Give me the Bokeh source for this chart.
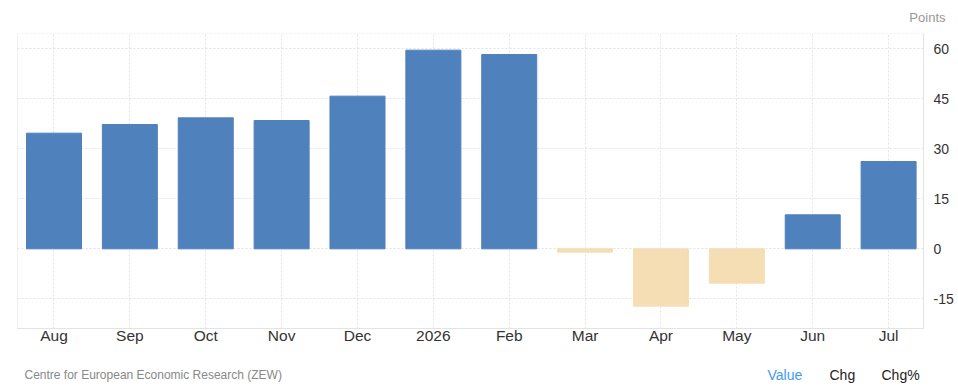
from bokeh.plotting import figure
from bokeh.models import ColumnDataSource, Range1d, FixedTicker, Span, Title
from bokeh.layouts import column
from bokeh.core.properties import value
from bokeh.embed import file_html
from bokeh.resources import INLINE

categories = ["Aug", "Sep", "Oct", "Nov", "Dec", "2026", "Feb", "Mar", "Apr", "May", "Jun", "Jul"]
values = [34.7, 37.3, 39.3, 38.5, 45.8, 59.6, 58.3, -1.0, -17.2, -10.3, 10.2, 26.2]
y_ticks = [-15, 0, 15, 30, 45, 60]
unit_label = "Points"
source_label = "Centre for European Economic Research (ZEW)"
tabs = ["Value", "Chg", "Chg%"]

POS = "#4F81BD"
NEG = "#F5DEB3"
GRID = "#e3e3e3"
FONT = "Liberation Sans"
W = 958
FRAME_L, FRAME_R = 17, 923
MAIN_H = 355

# main chart
xs = list(range(len(categories)))
colors = [POS if v >= 0 else NEG for v in values]
src = ColumnDataSource(dict(x=xs, top=values, bottom=[0] * len(values), color=colors))

p = figure(width=W, height=MAIN_H, output_backend="svg", toolbar_location=None,
           x_range=Range1d(-0.481, 11.46), y_range=Range1d(-23.9, 64.6),
           x_axis_location="below", y_axis_location="right",
           min_border_left=FRAME_L, min_border_right=W - FRAME_R, min_border_top=33, min_border_bottom=27)
p.outline_line_color = None
p.background_fill_color = "white"
p.border_fill_color = "white"

p.add_layout(Title(text=unit_label, align="right", offset=-22, standoff=14,
                   vertical_align="top",
                   text_font=FONT, text_font_size="13px", text_font_style="normal",
                   text_color="#999999"), "above")

p.vbar(x="x", top="top", bottom="bottom", width=0.725, color="color", source=src)

p.xaxis.ticker = FixedTicker(ticks=xs)
p.xaxis.major_label_overrides = {i: c for i, c in enumerate(categories)}
p.yaxis.ticker = FixedTicker(ticks=y_ticks)
p.yaxis.major_label_overrides = {t: str(t) for t in y_ticks}
for ax in (p.xaxis[0], p.yaxis[0]):
    ax.axis_line_color = GRID
    ax.axis_line_width = 1
    ax.major_tick_line_color = None
    ax.minor_tick_line_color = None
    ax.major_label_text_font = FONT
    ax.major_label_text_color = "#333333"
p.xaxis.major_label_text_font_size = "15.5px"
p.yaxis.major_label_text_font_size = "14px"
p.xaxis.major_label_standoff = -8
p.yaxis.major_label_standoff = 4

p.xgrid.ticker = FixedTicker(ticks=xs)
p.ygrid.ticker = FixedTicker(ticks=y_ticks)
for g in (p.xgrid[0], p.ygrid[0]):
    g.grid_line_color = GRID
    g.grid_line_dash = "2 2"
    g.grid_line_width = 1

p.add_layout(Span(location=-0.481, dimension="height", line_color=GRID, line_width=1))
p.add_layout(Span(location=64.6, dimension="width", line_color=GRID, line_width=1, line_dash="2 2"))

# footer (its frame is aligned with the main frame by the column layout)
FOOT_H = 389 - MAIN_H
foot = figure(width=W, height=FOOT_H, output_backend="svg", toolbar_location=None,
              x_range=Range1d(FRAME_L, FRAME_R), y_range=Range1d(FOOT_H, 0),
              min_border_left=FRAME_L, min_border_right=W - FRAME_R,
              min_border_top=0, min_border_bottom=0)
foot.axis.visible = False
foot.grid.visible = False
foot.outline_line_color = None
foot.background_fill_color = "white"
foot.border_fill_color = "white"
foot.text(x=[24], y=[19], text=[source_label], text_align="left", text_baseline="middle",
          text_font=value(FONT), text_font_size="12px", text_color="#888888")
foot.text(x=[767, 829, 881], y=[19, 19, 19], text=tabs,
          text_color=["#3f9cf2", "#222222", "#222222"],
          text_align="left", text_baseline="middle",
          text_font=value(FONT), text_font_size="14px")

layout = column(p, foot, spacing=0)
open("out.html", "w").write(file_html(layout, INLINE))
